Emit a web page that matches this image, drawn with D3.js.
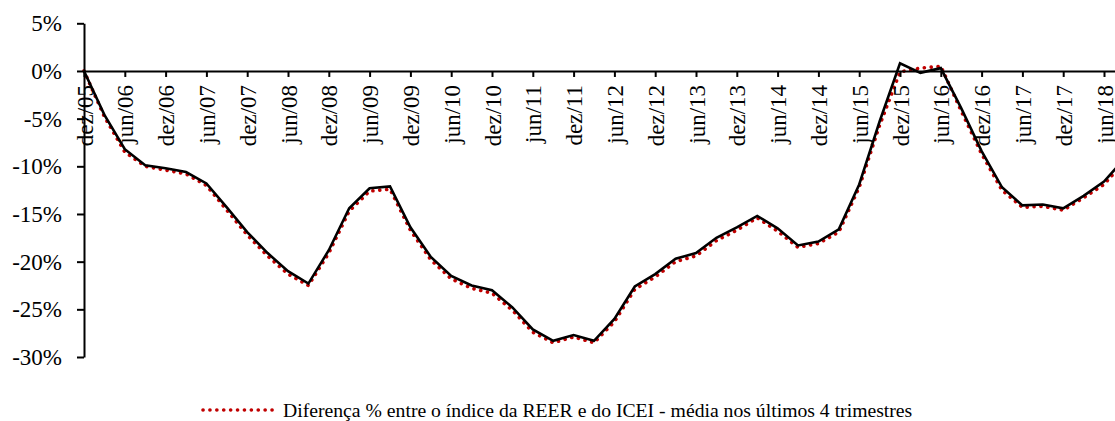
<!DOCTYPE html>
<html>
<head>
<meta charset="utf-8">
<script src="https://cdn.jsdelivr.net/npm/d3@7"></script>
<style>
  html, body { margin: 0; padding: 0; background: #fff; }
</style>
</head>
<body>
<svg id="chart"></svg>
<script>
// quarterly categories, dez/05 .. set/18
const quarters = [
  "dez/05","mar/06","jun/06","set/06","dez/06","mar/07","jun/07","set/07",
  "dez/07","mar/08","jun/08","set/08","dez/08","mar/09","jun/09","set/09",
  "dez/09","mar/10","jun/10","set/10","dez/10","mar/11","jun/11","set/11",
  "dez/11","mar/12","jun/12","set/12","dez/12","mar/13","jun/13","set/13",
  "dez/13","mar/14","jun/14","set/14","dez/14","mar/15","jun/15","set/15",
  "dez/15","mar/16","jun/16","set/16","dez/16","mar/17","jun/17","set/17",
  "dez/17","mar/18","jun/18","set/18"
];

// black solid line
const blackValues = [
  0.0, -4.6, -8.2, -9.9, -10.2, -10.6, -11.8, -14.3,
  -16.9, -19.1, -21.0, -22.3, -18.8, -14.4, -12.3, -12.1,
  -16.4, -19.5, -21.5, -22.5, -23.0, -24.8, -27.1, -28.3,
  -27.7, -28.3, -26.0, -22.6, -21.3, -19.7, -19.1, -17.5,
  -16.4, -15.2, -16.5, -18.3, -17.9, -16.6, -11.9, -5.3,
  0.8, -0.2, 0.3, -3.9, -8.4, -12.2, -14.1, -14.0,
  -14.4, -13.1, -11.6, -9.2
];

// red dotted line (legend series)
const redValues = [
  0.0, -4.8, -8.5, -10.0, -10.4, -10.8, -12.0, -14.6,
  -17.2, -19.4, -21.3, -22.5, -19.1, -14.7, -12.6, -12.4,
  -16.7, -19.8, -21.8, -22.8, -23.3, -25.1, -27.4, -28.5,
  -27.9, -28.5, -26.3, -22.9, -21.6, -20.0, -19.4, -17.8,
  -16.7, -15.4, -16.8, -18.5, -18.1, -16.9, -12.2, -5.7,
  -0.1, 0.3, 0.5, -4.2, -8.7, -12.5, -14.3, -14.2,
  -14.6, -13.3, -11.9, -9.5
];

const yTicks = [-30, -25, -20, -15, -10, -5, 0, 5];
const legendLabel = "Diferença % entre o índice da REER e do ICEI - média nos últimos 4 trimestres";

const width = 1115, height = 421;
const font = "'Liberation Serif', 'Times New Roman', serif";
const svg = d3.select("#chart").attr("width", width).attr("height", height);

const x = d3.scalePoint()
  .domain(quarters)
  .range([84, 84 + 20.4 * (quarters.length - 1)]);

const y = d3.scaleLinear()
  .domain([-30, 5])
  .range([357, 23.3]);

const line = d3.line().x(d => x(d[0])).y(d => y(d[1]));

// red first so the black line sits on top
svg.append("path")
  .datum(quarters.map((q, i) => [q, redValues[i]]))
  .attr("d", line)
  .attr("fill", "none")
  .attr("stroke", "#c00000")
  .attr("stroke-width", 3.6)
  .attr("stroke-linecap", "round")
  .attr("stroke-dasharray", "0.1 6.8");

svg.append("path")
  .datum(quarters.map((q, i) => [q, blackValues[i]]))
  .attr("d", line)
  .attr("fill", "none")
  .attr("stroke", "#000")
  .attr("stroke-width", 2.6);

// y axis
const yAxis = svg.append("g")
  .attr("transform", "translate(84,0)")
  .call(d3.axisLeft(y)
    .tickValues(yTicks)
    .tickFormat(d => d + "%")
    .tickSize(7)
    .tickSizeOuter(0)
    .tickPadding(15));
yAxis.attr("font-family", null);
yAxis.select(".domain").attr("stroke-width", 2);
yAxis.selectAll(".tick line").attr("stroke-width", 2);
yAxis.selectAll("text")
  .style("font-family", font)
  .style("font-size", "23px")
  .attr("fill", "#000");

// x axis on the zero line
const xAxis = svg.append("g")
  .attr("transform", `translate(0,${y(0)})`)
  .call(d3.axisBottom(x)
    .tickValues(quarters.filter((q, i) => i % 2 === 0))
    .tickSize(6)
    .tickSizeOuter(0));
xAxis.attr("font-family", null);
xAxis.select(".domain").attr("stroke-width", 2);
xAxis.selectAll(".tick line").attr("stroke-width", 2);
xAxis.selectAll("text")
  .attr("transform", "rotate(-90)")
  .attr("x", -14)
  .attr("y", 0)
  .attr("dy", "0.35em")
  .style("text-anchor", "end")
  .style("font-family", font)
  .style("font-size", "23px")
  .attr("fill", "#000");

// legend
const legend = svg.append("g").attr("transform", "translate(201,410)");
legend.append("line")
  .attr("x1", 2).attr("x2", 74)
  .attr("stroke", "#c00000")
  .attr("stroke-width", 3.6)
  .attr("stroke-linecap", "round")
  .attr("stroke-dasharray", "0.1 6.8");
legend.append("text")
  .attr("x", 82)
  .attr("dy", "0.35em")
  .style("font-family", font)
  .style("font-size", "19.7px")
  .attr("fill", "#000")
  .text(legendLabel);
</script>
</body>
</html>
